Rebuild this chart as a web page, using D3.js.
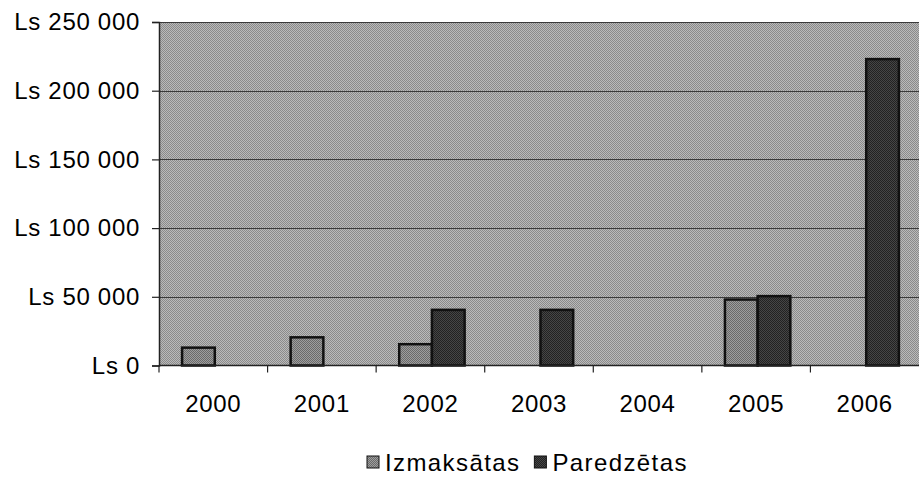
<!DOCTYPE html>
<html>
<head>
<meta charset="utf-8">
<script src="https://cdn.jsdelivr.net/npm/d3@7"></script>
<style>
  html, body { margin: 0; padding: 0; background: #ffffff; }
  svg text { font-family: "Liberation Sans", Arial, sans-serif; fill: #000; }
</style>
</head>
<body>
<svg id="chart" width="919" height="479"></svg>
<script>
// Gadi (kategorijas)
const years = ["2000", "2001", "2002", "2003", "2004", "2005", "2006"];
// Sērijas
const seriesNames = ["Izmaksātas", "Paredzētas"];
// Vērtības latos (null = nav datu)
const izmaksatas = [13000, 20500, 15500, null, null, 48000, null];
const paredzetas = [null, null, 40500, 40500, null, 50500, 223000];
// Y ass iedaļas
const yTicks = [0, 50000, 100000, 150000, 200000, 250000];

const svg = d3.select("#chart");
const plot = { left: 159, right: 919, top: 22, bottom: 365.5 };

// Raster patterns for plot area and bars
const defs = svg.append("defs");
function dither(id, base, dot) {
  const p = defs.append("pattern").attr("id", id)
    .attr("patternUnits", "userSpaceOnUse").attr("width", 2).attr("height", 2);
  p.append("rect").attr("width", 2).attr("height", 2).attr("fill", base);
  p.append("rect").attr("x", 0).attr("y", 0).attr("width", 1).attr("height", 1).attr("fill", dot);
  p.append("rect").attr("x", 1).attr("y", 1).attr("width", 1).attr("height", 1).attr("fill", dot);
}
dither("bgPat", "#bababa", "#8a8a8a");
dither("izPat", "#9e9e9e", "#6a6a6a");
dither("paPat", "#464646", "#222222");
const fills = { "Izmaksātas": "url(#izPat)", "Paredzētas": "url(#paPat)" };

const x = d3.scaleBand().domain(years).range([plot.left, plot.right]).paddingInner(0).paddingOuter(0);
const xs = d3.scaleBand().domain(seriesNames).range([1.5, x.bandwidth() + 1.5]).paddingInner(0).paddingOuter(0.66);
const y = d3.scaleLinear().domain([0, 250000]).range([plot.bottom, plot.top]);

// Plot area background
svg.append("rect")
  .attr("x", plot.left).attr("y", plot.top)
  .attr("width", plot.right - plot.left).attr("height", plot.bottom - plot.top)
  .attr("fill", "url(#bgPat)");

// Horizontal gridlines
svg.append("g").selectAll("line").data(yTicks.filter(d => d > 0)).join("line")
  .attr("x1", plot.left).attr("x2", plot.right)
  .attr("y1", d => Math.round(y(d)) + 0.5).attr("y2", d => Math.round(y(d)) + 0.5)
  .attr("stroke", "#3a3a3a").attr("stroke-width", 1.2);

// Bars
const rows = [];
years.forEach((yr, i) => {
  rows.push({ year: yr, series: "Izmaksātas", value: izmaksatas[i] });
  rows.push({ year: yr, series: "Paredzētas", value: paredzetas[i] });
});
svg.append("g").selectAll("rect").data(rows.filter(d => d.value != null)).join("rect")
  .attr("x", d => x(d.year) + xs(d.series))
  .attr("y", d => y(d.value))
  .attr("width", xs.bandwidth())
  .attr("height", d => y(0) - y(d.value))
  .attr("fill", d => fills[d.series])
  .attr("stroke", "#111").attr("stroke-width", 2.5);

// Y axis
const yAxis = d3.axisLeft(y).tickValues(yTicks).tickSize(7).tickPadding(12)
  .tickFormat(d => "Ls " + d3.format(",")(d).replace(/,/g, " "));
const gy = svg.append("g").attr("transform", `translate(${plot.left},0)`).call(yAxis);
gy.select(".domain").attr("stroke", "#222").attr("stroke-width", 1.5);
gy.selectAll(".tick line").attr("stroke", "#222").attr("stroke-width", 1.2);
gy.selectAll(".tick text").attr("font-size", 24).attr("letter-spacing", 0.7)
  .attr("font-family", "'Liberation Sans', Arial, sans-serif");

// X axis: ticks at category boundaries, labels at centres
const gx = svg.append("g").attr("transform", `translate(0,${plot.bottom})`);
gx.append("line").attr("x1", plot.left).attr("x2", plot.right)
  .attr("stroke", "#222").attr("stroke-width", 1.5);
gx.selectAll("line.tk").data(years).join("line").attr("class", "tk")
  .attr("x1", d => x(d)).attr("x2", d => x(d))
  .attr("y1", 0).attr("y2", 7).attr("stroke", "#222").attr("stroke-width", 1.2);
gx.selectAll("text").data(years).join("text")
  .attr("x", d => x(d) + x.bandwidth() / 2).attr("y", 46)
  .attr("text-anchor", "middle").attr("font-size", 24).attr("letter-spacing", 0.7)
  .text(d => d);

// Legend
const legend = svg.append("g").attr("transform", "translate(0,471)");
let lx = 367;
seriesNames.forEach(name => {
  legend.append("rect").attr("x", lx).attr("y", -15).attr("width", 12).attr("height", 12)
    .attr("fill", fills[name]).attr("stroke", "#111").attr("stroke-width", 1);
  const t = legend.append("text").attr("x", lx + 18).attr("y", 0)
    .attr("font-size", 24).attr("letter-spacing", 1.4).text(name);
  lx += 18 + t.node().getComputedTextLength() + 14;
});
</script>
</body>
</html>
